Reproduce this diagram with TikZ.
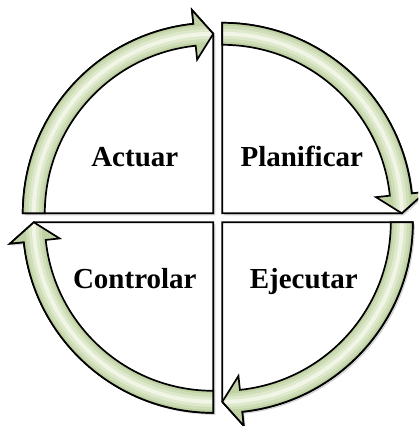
\documentclass[tikz,border=0pt]{standalone}
\usepackage{fontspec}
\setmainfont{Liberation Serif}
\usetikzlibrary{shadows}
\definecolor{gA}{RGB}{192,210,164}
\definecolor{gB}{RGB}{207,222,184}
\definecolor{gC}{RGB}{222,233,204}
\definecolor{gD}{RGB}{240,245,230}
\tikzset{
  quad/.style={fill=white, draw=black, line width=1.7pt, line join=miter,
    drop shadow={opacity=0.35, shadow xshift=2pt, shadow yshift=-2pt}},
  band/.style={draw=black, line width=1.7pt, line join=miter},
  lbl/.style={font=\fontsize{29}{32}\selectfont\bfseries, anchor=base, inner sep=0pt}
}
\begin{document}
\begin{tikzpicture}[x=1pt,y=1pt]
\useasboundingbox (-217.8,-208.2) rectangle (200.2,217.8);
\clip (-217.8,-208.2) rectangle (200.2,217.8);
\fill[white] (-217.8,-208.2) rectangle (200.2,217.8);
\foreach \cx/\cy/\s in {-1/1/180,1/1/90,1/-1/0,-1/-1/270}{
  \pgfmathsetmacro\e{\s-90}
  \pgfmathsetmacro\b{\s-84}
  \begin{scope}[shift={(\cx*4.5,\cy*4.5)}]
    \path[quad] (0,0) -- (\s:190.5pt) arc[start angle=\s, end angle=\b, radius=190.5pt]
      -- (\b:204.5pt) -- (\e:179.5pt) -- cycle;
    \begin{scope}
      \clip (\s:168.5pt) -- (\s:190.5pt) arc[start angle=\s, end angle=\b, radius=190.5pt]
        -- (\b:204.5pt) -- (\e:179.5pt) -- (\b:154.5pt) -- (\b:168.5pt)
        arc[start angle=\b, end angle=\s, radius=168.5pt] -- cycle;
      \fill[gA] (-260,-260) rectangle (260,260);
      \draw[gB, line width=16pt] (\s:179.5pt) arc[start angle=\s, end angle=\e, radius=179.5pt];
      \draw[gC, line width=10pt] (\s:179.5pt) arc[start angle=\s, end angle=\e, radius=179.5pt];
      \draw[gD, line width=4pt] (\s:179.5pt) arc[start angle=\s, end angle=\e, radius=179.5pt];
    \end{scope}
    \draw[band] (\s:168.5pt) -- (\s:190.5pt) arc[start angle=\s, end angle=\b, radius=190.5pt]
        -- (\b:204.5pt) -- (\e:179.5pt) -- (\b:154.5pt) -- (\b:168.5pt)
        arc[start angle=\b, end angle=\s, radius=168.5pt] -- cycle;
  \end{scope}
}
\node[lbl] (actuar) at (-83,51.8) {Actuar};
\node[lbl] (planificar) at (84,51.8) {Planificar};
\node[lbl] (controlar) at (-83,-70.2) {Controlar};
\node[lbl] (ejecutar) at (86,-70.2) {Ejecutar};
\end{tikzpicture}
\end{document}
